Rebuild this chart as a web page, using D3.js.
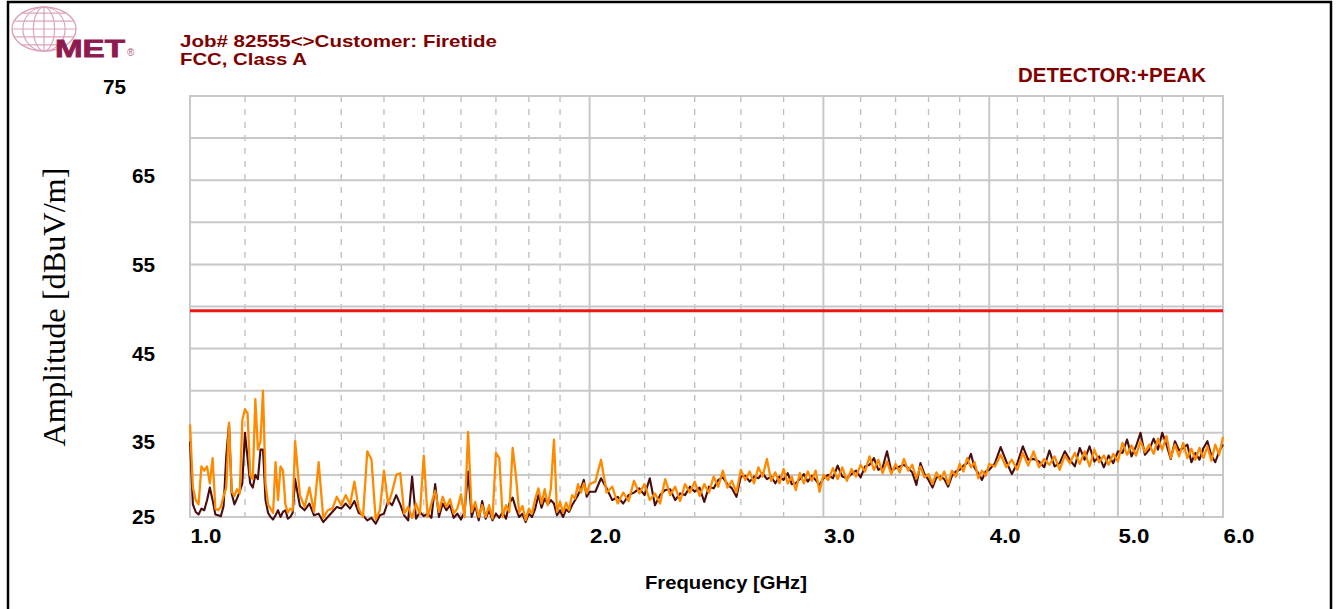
<!DOCTYPE html>
<html><head><meta charset="utf-8">
<script src="https://cdn.jsdelivr.net/npm/d3@7"></script>
<style>html,body{margin:0;padding:0;background:#fff;overflow:hidden}</style>
</head><body>
<svg id="chart" width="1337" height="609"></svg>
<script>
// ---------- DATA ----------
const freqGHz = [
 1.000,1.005,1.010,1.015,1.020,1.025,1.030,1.035,1.040,1.045,1.050,1.055,1.060,1.065,1.070,1.075,1.080,1.085,1.090,1.095,
 1.100,1.105,1.110,1.115,1.120,1.125,1.130,1.135,1.140,1.145,1.150,1.155,1.160,1.165,1.170,1.175,1.180,1.185,1.190,1.195,1.200,
 1.21,1.22,1.23,1.24,1.25,1.26,1.27,1.28,1.29,1.30,
 1.31,1.32,1.33,1.34,1.35,1.36,1.37,1.38,1.39,1.40,
 1.41,1.42,1.43,1.44,1.45,1.46,1.47,1.48,1.49,1.50,
 1.51,1.52,1.53,1.54,1.55,1.56,1.57,1.58,1.59,1.60,
 1.61,1.62,1.63,1.64,1.65,1.66,1.67,1.68,1.69,1.70,
 1.71,1.72,1.73,1.74,1.75,1.76,1.77,1.78,1.79,1.80,
 1.81,1.82,1.83,1.84,1.85,1.86,1.87,1.88,1.89,1.90,
 1.91,1.92,1.93,1.94,1.95,1.96,1.97,1.98,1.99,2.00,
 2.02,2.04,2.06,2.08,2.10,2.12,2.14,2.16,2.18,2.20,
 2.22,2.24,2.26,2.28,2.30,2.32,2.34,2.36,2.38,2.40,
 2.42,2.44,2.46,2.48,2.50,2.52,2.54,2.56,2.58,2.60,
 2.62,2.64,2.66,2.68,2.70,2.72,2.74,2.76,2.78,2.80,
 2.82,2.84,2.86,2.88,2.90,2.92,2.94,2.96,2.98,3.00,
 3.025,3.050,3.075,3.100,3.125,3.150,3.175,3.200,3.225,3.250,
 3.275,3.300,3.325,3.350,3.375,3.400,3.425,3.450,3.475,3.500,
 3.525,3.550,3.575,3.600,3.625,3.650,3.675,3.700,3.725,3.750,
 3.775,3.800,3.825,3.850,3.875,3.900,3.925,3.950,3.975,4.000,
 4.04,4.08,4.12,4.16,4.20,4.24,4.28,4.32,4.36,4.40,
 4.44,4.48,4.52,4.56,4.60,4.64,4.68,4.72,4.76,4.80,
 4.84,4.88,4.92,4.96,5.00,5.04,5.08,5.12,5.16,5.20,
 5.24,5.28,5.32,5.36,5.40,5.44,5.48,5.52,5.56,5.60,
 5.64,5.68,5.72,5.76,5.80,5.84,5.88,5.92,5.96,6.00
];
// orange trace (+PEAK, vertical)
const peakVertical = [
 36,28.5,27,26.5,31,30.5,31,29,32,26,25.8,26.2,27.5,28.5,36.2,28,27.5,28.3,27.8,36.5,
 37.8,37.3,30,29.5,39,33,34,40,29,26.5,26,25.5,31.5,27,31,30.5,26.5,25.5,26,25.8,34,
 27.6,26.2,28.5,25.6,31.5,24.9,25.8,26.0,27.4,26.4,
 27.6,26.5,29.2,26.0,25.0,32.8,31.8,24.7,25.8,30.5,
 26.5,28.0,30.0,30.2,25.4,26.2,24.9,26.6,25.3,32.3,
 25.0,26.6,28.1,25.6,27.4,26.2,27.1,25.4,26.0,27.7,
 25.0,35.1,25.6,26.8,25.0,26.4,25.0,26.4,24.8,32.6,
 32.0,25.0,26.4,25.6,33.2,29.9,25.5,26.3,24.6,26.0,
 25.4,27.2,28.4,26.6,28.3,26.4,28.4,34.2,25.6,26.8,
 25.5,26.7,25.8,27.6,27.2,28.9,27.9,29.0,27.8,28.9,
 29.2,31.8,27.9,28.6,26.6,27.9,26.9,29.3,27.8,28.9,
 27.0,27.8,26.6,29.5,27.6,28.6,26.9,28.9,27.9,29.2,
 27.5,28.9,27.9,29.8,28.6,30.5,28.5,29.3,27.9,30.6,
 29.4,30.4,29.0,30.9,29.8,31.9,29.3,30.3,29.0,30.7,
 29.0,29.8,28.2,30.2,29.0,30.4,29.3,30.5,28.0,30.0,
 29.4,30.8,29.5,30.9,29.3,30.7,29.8,31.2,30.4,32.2,
 30.6,31.8,30.2,31.6,30.1,31.3,30.3,31.9,30.5,31.2,
 29.6,31.0,29.7,30.1,28.9,30.3,29.4,30.4,28.9,30.5,
 29.8,31.3,30.4,32.0,30.9,31.5,29.6,30.5,29.9,31.3,
 31.0,32.4,30.9,31.8,30.6,32.6,31.1,32.8,30.9,31.9,
 31.2,32.2,30.6,32.3,31.4,32.6,31.3,32.8,31.0,33.0,
 31.5,32.3,31.2,32.5,31.6,33.8,32.4,33.5,32.3,34.0,
 32.7,33.6,32.5,34.3,33.0,34.6,32.0,33.6,32.2,33.8,
 32.0,33.1,31.8,33.2,32.0,33.4,31.7,33.6,32.4,34.5
];
// maroon trace (+PEAK, horizontal)
const peakHorizontal = [
 34,26.5,25.6,25.3,26,25.8,27,28.5,27,25.3,25.2,25.1,26.3,32.3,36,27.8,26.5,27.2,28,29,
 35,32,29,28.5,30,29.5,33,33,27,25.5,25,24.7,25.2,25.8,25,25.6,25.8,24.8,25,25.5,29.5,
 26.3,25.8,26.6,25.2,25.4,24.4,25.0,25.6,26.2,26.0,
 26.6,26.0,26.9,25.5,25.2,24.6,24.9,24.2,25.2,25.4,
 26.9,26.4,27.6,26.5,25.2,24.6,29.8,24.8,25.6,25.1,
 25.4,24.9,28.9,25.0,26.6,25.8,26.4,24.9,25.4,24.7,
 25.6,30.4,25.0,26.4,24.6,26.9,24.8,25.8,24.6,25.4,
 24.9,25.6,24.8,26.6,27.3,26.0,25.0,25.4,24.4,25.4,
 25.0,26.0,27.6,26.1,27.2,26.5,27.0,26.6,25.2,25.8,
 25.0,25.9,25.6,26.4,27.0,27.6,28.4,29.4,27.4,28.0,
 28.0,29.6,28.4,27.0,27.4,26.6,27.6,27.9,28.4,27.6,
 29.6,26.4,27.6,28.2,28.3,27.0,27.8,27.6,28.6,28.0,
 28.5,26.8,28.6,28.4,29.4,29.7,28.9,28.4,27.4,29.8,
 29.9,29.2,29.8,29.6,30.2,29.5,29.8,29.0,29.8,29.4,
 30.2,28.9,29.0,29.5,30.1,29.2,29.9,29.4,28.8,29.6,
 30.0,29.6,31.1,29.8,29.6,30.1,30.5,29.7,31.0,31.2,
 32.0,30.6,30.9,32.8,30.5,30.8,31.0,31.2,30.8,30.3,
 28.8,31.4,30.1,29.4,28.5,29.7,29.8,29.5,28.6,29.9,
 30.4,30.6,31.1,31.4,32.5,30.8,30.2,29.4,30.4,30.6,
 31.4,33.3,31.6,30.1,31.4,33.4,31.8,31.9,31.6,30.9,
 32.9,31.0,31.4,32.8,31.8,31.0,33.2,31.8,33.4,31.6,
 32.2,30.9,32.3,31.4,32.8,32.6,34.2,32.2,33.4,35.0,
 32.4,33.0,34.3,33.0,35.0,33.6,31.9,34.0,32.9,33.2,
 33.6,31.5,32.6,31.8,33.2,34.0,32.3,31.5,32.8,33.6
];
const limitLevel = [49.5];
const xMajorTicks = [1, 2, 3, 4, 5, 6];
const xTickLabels = ["1.0", "2.0", "3.0", "4.0", "5.0", "6.0"];
const xMinorTicks = [1.1,1.2,1.3,1.4,1.5,1.6,1.7,1.8,1.9,2.2,2.4,2.6,2.8,3.2,3.4,3.6,3.8,4.2,4.4,4.6,4.8,5.2,5.4,5.6,5.8];
const yGridValues = [30, 35, 40, 45, 50, 55, 60, 65, 70];
const yTickLabels = [75, 65, 55, 45, 35, 25];

// ---------- CHART ----------
const svg = d3.select("#chart");
const W = 1337, H = 609;
const plot = {left: 190, right: 1223, top: 96, bottom: 517};
const x = d3.scaleLog().domain([1, 6]).range([plot.left, plot.right]);
const y = d3.scaleLinear().domain([25, 75]).range([plot.bottom, plot.top]);
const sans = "'Liberation Sans', Arial, sans-serif";
const gridCol = "#c8c8c8";

svg.append("rect").attr("width", W).attr("height", H).attr("fill", "#fff");
svg.append("rect").attr("x", 8).attr("y", 2).attr("width", 1323).attr("height", 640)
  .attr("fill", "none").attr("stroke", "#000").attr("stroke-width", 2.5);

// ---- logo ----
const logo = svg.append("g").attr("class", "logo");
const gc = {cx: 44, cy: 29, rx: 32, ry: 22};
const pink = "#dba3bd";
logo.append("ellipse").attr("cx", gc.cx).attr("cy", gc.cy).attr("rx", gc.rx).attr("ry", gc.ry)
  .attr("fill", "none").attr("stroke", pink).attr("stroke-width", 1.4);
[0.66, 0.33].forEach(k => logo.append("ellipse").attr("cx", gc.cx).attr("cy", gc.cy)
  .attr("rx", gc.rx * k).attr("ry", gc.ry).attr("fill", "none").attr("stroke", pink).attr("stroke-width", 1.2));
logo.append("line").attr("x1", gc.cx).attr("x2", gc.cx).attr("y1", gc.cy - gc.ry).attr("y2", gc.cy + gc.ry)
  .attr("stroke", pink).attr("stroke-width", 1.2);
[-0.72, -0.36, 0, 0.36, 0.72].forEach(k => {
  const yy = gc.cy + k * gc.ry;
  const half = gc.rx * Math.sqrt(1 - k * k);
  logo.append("line").attr("x1", gc.cx - half).attr("x2", gc.cx + half).attr("y1", yy).attr("y2", yy)
    .attr("stroke", pink).attr("stroke-width", 1.2);
});
logo.append("text").attr("x", 55).attr("y", 57).text("MET")
  .attr("font-family", sans).attr("font-weight", "900").attr("font-size", 24)
  .attr("stroke", "#8e1b50").attr("stroke-width", 0.8)
  .attr("textLength", 70).attr("lengthAdjust", "spacingAndGlyphs").attr("fill", "#8e1b50");
logo.append("text").attr("x", 127).attr("y", 56).text("®")
  .attr("font-family", sans).attr("font-size", 10).attr("fill", "#b0607f");

// ---- titles ----
const titleCol = "#800000";
svg.append("text").attr("x", 180).attr("y", 46.5).text("Job# 82555<>Customer: Firetide")
  .attr("font-family", sans).attr("font-weight", "bold").attr("font-size", 17)
  .attr("textLength", 317).attr("lengthAdjust", "spacingAndGlyphs").attr("fill", titleCol);
svg.append("text").attr("x", 180).attr("y", 64.5).text("FCC, Class A")
  .attr("font-family", sans).attr("font-weight", "bold").attr("font-size", 17)
  .attr("textLength", 127).attr("lengthAdjust", "spacingAndGlyphs").attr("fill", titleCol);
svg.append("text").attr("x", 1018).attr("y", 82).text("DETECTOR:+PEAK")
  .attr("font-family", sans).attr("font-weight", "bold").attr("font-size", 21)
  .attr("textLength", 188).attr("lengthAdjust", "spacingAndGlyphs").attr("fill", titleCol);

// ---- grid ----
const grid = svg.append("g");
grid.selectAll(".minor").data(xMinorTicks).join("line")
  .attr("x1", d => x(d)).attr("x2", d => x(d)).attr("y1", plot.top).attr("y2", plot.bottom)
  .attr("stroke", "#bdbdbd").attr("stroke-width", 1.3).attr("stroke-dasharray", "6,7");
grid.selectAll(".hgrid").data(yGridValues).join("line")
  .attr("x1", plot.left).attr("x2", plot.right).attr("y1", d => y(d)).attr("y2", d => y(d))
  .attr("stroke", gridCol).attr("stroke-width", 2);
grid.selectAll(".major").data(xMajorTicks.slice(1, -1)).join("line")
  .attr("x1", d => x(d)).attr("x2", d => x(d)).attr("y1", plot.top).attr("y2", plot.bottom)
  .attr("stroke", gridCol).attr("stroke-width", 2);
grid.append("rect").attr("x", plot.left).attr("y", plot.top)
  .attr("width", plot.right - plot.left).attr("height", plot.bottom - plot.top)
  .attr("fill", "none").attr("stroke", gridCol).attr("stroke-width", 2);

// ---- limit line ----
svg.selectAll(".limit").data(limitLevel).join("line")
  .attr("x1", plot.left).attr("x2", plot.right).attr("y1", d => y(d)).attr("y2", d => y(d))
  .attr("stroke", "#f01414").attr("stroke-width", 3);

// ---- traces ----
const line = (vals) => d3.line().x((d, i) => x(freqGHz[i])).y(d => y(d))(vals);
svg.append("path").attr("d", line(peakHorizontal)).attr("fill", "none")
  .attr("stroke", "#4a0c0c").attr("stroke-width", 2.1).attr("stroke-linejoin", "round");
svg.append("path").attr("d", line(peakVertical)).attr("fill", "none")
  .attr("stroke", "#ff8a00").attr("stroke-width", 2.3).attr("stroke-linejoin", "round");

// ---- x axis labels ----
const xAxis = d3.axisBottom(x).tickValues(xMajorTicks).tickSize(0)
  .tickFormat((d, i) => xTickLabels[i]);
const gx = svg.append("g").attr("transform", `translate(0,${plot.bottom})`).call(xAxis);
gx.select(".domain").remove();
gx.selectAll("text").attr("text-anchor", "start").attr("dy", null).attr("y", 26)
  .attr("font-family", sans).attr("font-weight", "bold").attr("font-size", 21)
  .attr("textLength", 31).attr("lengthAdjust", "spacingAndGlyphs").attr("fill", "#000");

svg.append("text").attr("x", 726).attr("y", 589).attr("text-anchor", "middle").text("Frequency [GHz]")
  .attr("font-family", sans).attr("font-weight", "bold").attr("font-size", 19)
  .attr("textLength", 162).attr("lengthAdjust", "spacingAndGlyphs");

// ---- y labels ----
const yLabel = d3.scaleLinear().domain([75, 25]).range([87, 531]);
svg.selectAll(".ylab").data(yTickLabels).join("text")
  .attr("x", d => d === 75 ? 126 : 155)
  .attr("y", d => Math.min(yLabel(d), y(25)))
  .attr("dy", "0.36em").attr("text-anchor", "end").text(d => d)
  .attr("font-family", sans).attr("font-weight", "bold").attr("font-size", 20)
  .attr("textLength", 23).attr("lengthAdjust", "spacingAndGlyphs");

svg.append("text").attr("transform", "translate(65,307) rotate(-90)").attr("text-anchor", "middle")
  .text("Amplitude [dBuV/m]").attr("font-family", "'Liberation Serif', 'Times New Roman', serif")
  .attr("font-size", 32).attr("textLength", 279).attr("lengthAdjust", "spacingAndGlyphs");
</script>
</body></html>
